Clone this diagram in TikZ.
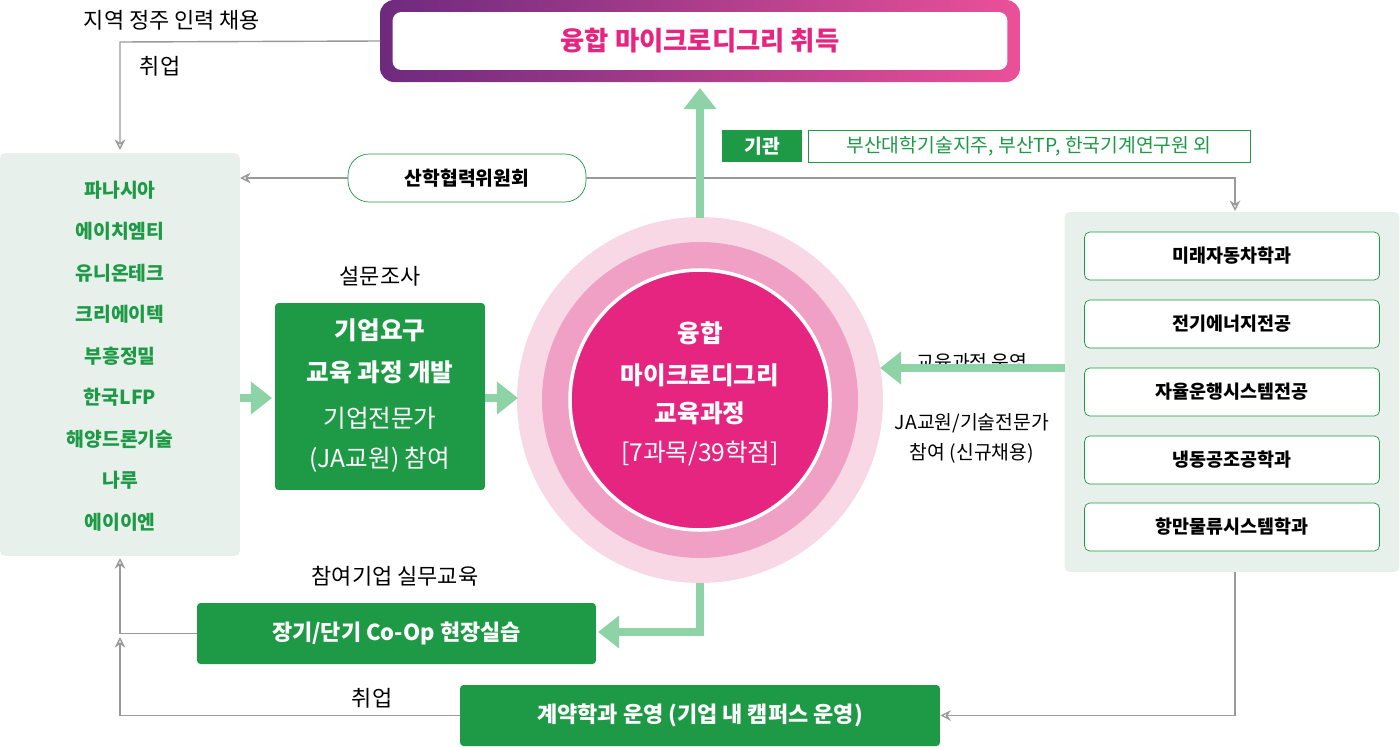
\documentclass[tikz,border=0pt]{standalone}
\usepackage{fontspec}
\setmainfont{Noto Sans CJK KR}
\usetikzlibrary{arrows.meta,positioning}
\definecolor{dgreen}{HTML}{1E9A46}
\definecolor{lgreen}{HTML}{8DD3A5}
\definecolor{panel}{HTML}{E8F0EC}
\definecolor{pink}{HTML}{E5257F}
\definecolor{mpink}{HTML}{EFA0C4}
\definecolor{opink}{HTML}{F9D8E6}
\definecolor{purp}{HTML}{6E2A7E}
\definecolor{gline}{HTML}{9A9A9A}
\begin{document}
\begin{tikzpicture}[x=0.02cm, y=-0.02cm]
% define styles
\tikzstyle{every node} = [font=\fontsize{11}{13}\selectfont, inner sep=0pt]
\tikzstyle{gbox}  = [fill=dgreen, rounded corners=2pt, text=white, font=\fontsize{12.5}{15}\selectfont\bfseries]
\tikzstyle{wbox}  = [draw=dgreen, fill=white, rounded corners=3pt, minimum width=5.9cm, minimum height=0.96cm, font=\fontsize{10.5}{13}\selectfont\bfseries]
\tikzstyle{conn}  = [draw=gline, thick, -{Stealth[length=6pt,width=6pt,open]}]
\tikzstyle{flow}  = [draw=lgreen, line width=5pt, -{Triangle[length=12pt,width=18pt]}]
\tikzstyle{item}  = [text=dgreen, font=\fontsize{11}{13}\selectfont\bfseries]

\useasboundingbox (0,0) rectangle (1400,747);

% top banner
\shade[left color=purp, right color=pink!80, rounded corners=8pt] (380,0) rectangle (1020,82);
\node[fill=white, rounded corners=5pt, minimum width=12.3cm, minimum height=1.16cm] (goal) at (700,41) {};
\node[text=pink, font=\fontsize{15}{18}\selectfont\bfseries] at (goal) {융합 마이크로디그리 취득};

% left panel
\node[fill=panel, rounded corners=3pt, minimum width=4.8cm, minimum height=8.06cm] (left) at (120,354.5) {};
\foreach \t [count=\i from 0] in {파나시아, 에이치엠티, 유니온테크, 크리에이텍, 부흥정밀, 한국LFP, 해양드론기술, 나루, 에이이엔}
    \node[item] at (120,{190+\i*41.5}) {\t};

% right panel
\node[fill=panel, rounded corners=3pt, minimum width=6.7cm, minimum height=7.2cm] (right) at (1232,392) {};
\foreach \n/\t/\y in {r1/미래자동차학과/256, r2/전기에너지전공/324, r3/자율운행시스템전공/392, r4/냉동공조공학과/460, r5/항만물류시스템학과/527}
    \node[wbox] (\n) at (1232,\y) {\t};

% centre circles
\fill[opink] (700,400) circle (183);
\fill[mpink] (700,400) circle (158);
\draw[white, line width=2pt, fill=pink] (700,400) circle (130);
\node (core) at (700,400) {};
\foreach \t/\y in {융합/333, 마이크로디그리/375, 교육과정/413}
    \node[text=white, font=\fontsize{14}{16}\selectfont\bfseries] at (700,\y) {\t};
\node[text=white, font=\fontsize{14}{16}\selectfont] at (700,453) {[7과목/39학점]};

% institution tag
\node[fill=dgreen, text=white, font=\fontsize{11}{13}\selectfont\bfseries, minimum width=1.6cm, minimum height=0.64cm] (tag) at (762,146) {기관};
\node[draw=dgreen, fill=white, text=dgreen, minimum width=8.84cm, minimum height=0.64cm] (inst) at (1029,146) {부산대학기술지주, 부산TP, 한국기계연구원 외};

% committee
\node[draw=dgreen, fill=white, rounded corners=12pt, minimum width=4.76cm, minimum height=0.96cm, font=\fontsize{11}{13}\selectfont\bfseries] (comm) at (467,178) {산학협력위원회};

% development box
\node at (380,276) {\fontsize{12.5}{15}\selectfont 설문조사};
\node[gbox, minimum width=4.2cm, minimum height=3.74cm] (dev) at (380,396.5) {};
\node[text=white, font=\fontsize{14}{16}\selectfont\bfseries] at (380,330) {기업요구};
\node[text=white, font=\fontsize{14}{16}\selectfont\bfseries] at (380,372) {교육 과정 개발};
\node[text=white, font=\fontsize{14}{16}\selectfont] at (380,418) {기업전문가};
\node[text=white, font=\fontsize{14}{16}\selectfont] at (380,460) {(JA교원) 참여};

% bottom boxes
\node at (395,576) {\fontsize{12.5}{15}\selectfont 참여기업 실무교육};
\node[gbox, minimum width=7.98cm, minimum height=1.22cm] (coop) at (396.5,633.5) {장기/단기 Co-Op 현장실습};
\node[gbox, minimum width=9.6cm, minimum height=1.22cm] (contract) at (700,715.5) {계약학과 운영 (기업 내 캠퍼스 운영)};

% texts
\node at (172,20) {\fontsize{12.5}{15}\selectfont 지역 정주 인력 채용};
\node at (160,66) {\fontsize{12.5}{15}\selectfont 취업};
\node at (372,698) {\fontsize{12.5}{15}\selectfont 취업};
\node at (972,362) {교육과정 운영};
\node at (972,423) {JA교원/기술전문가};
\node at (972,453) {참여 (신규채용)};

% thin connectors
\draw[conn] (goal.west -| 380,42) -- (120,42) -- (120,150);
\draw[conn] (comm.west) -- (240,178);
\draw[conn] (comm.east) -- (1235,178) -- (1235,211);
\draw[conn] (coop.west) -- (120,633.5) -- (120,558);
\draw[conn] (contract.west) -- (120,715.5) -- (120,637);
\draw[conn] (1235,572) -- (1235,715.5) -- (contract.east);

% thick flows
\draw[flow] (700,218) -- (700,88);
\draw[flow] (240,398) -- (272,398);
\draw[flow] (485,398) -- (518,398);
\draw[flow] (1065,368) -- (880,368);
\draw[flow] (700,583) -- (700,632) -- (598,632);
\end{tikzpicture}
\end{document}
